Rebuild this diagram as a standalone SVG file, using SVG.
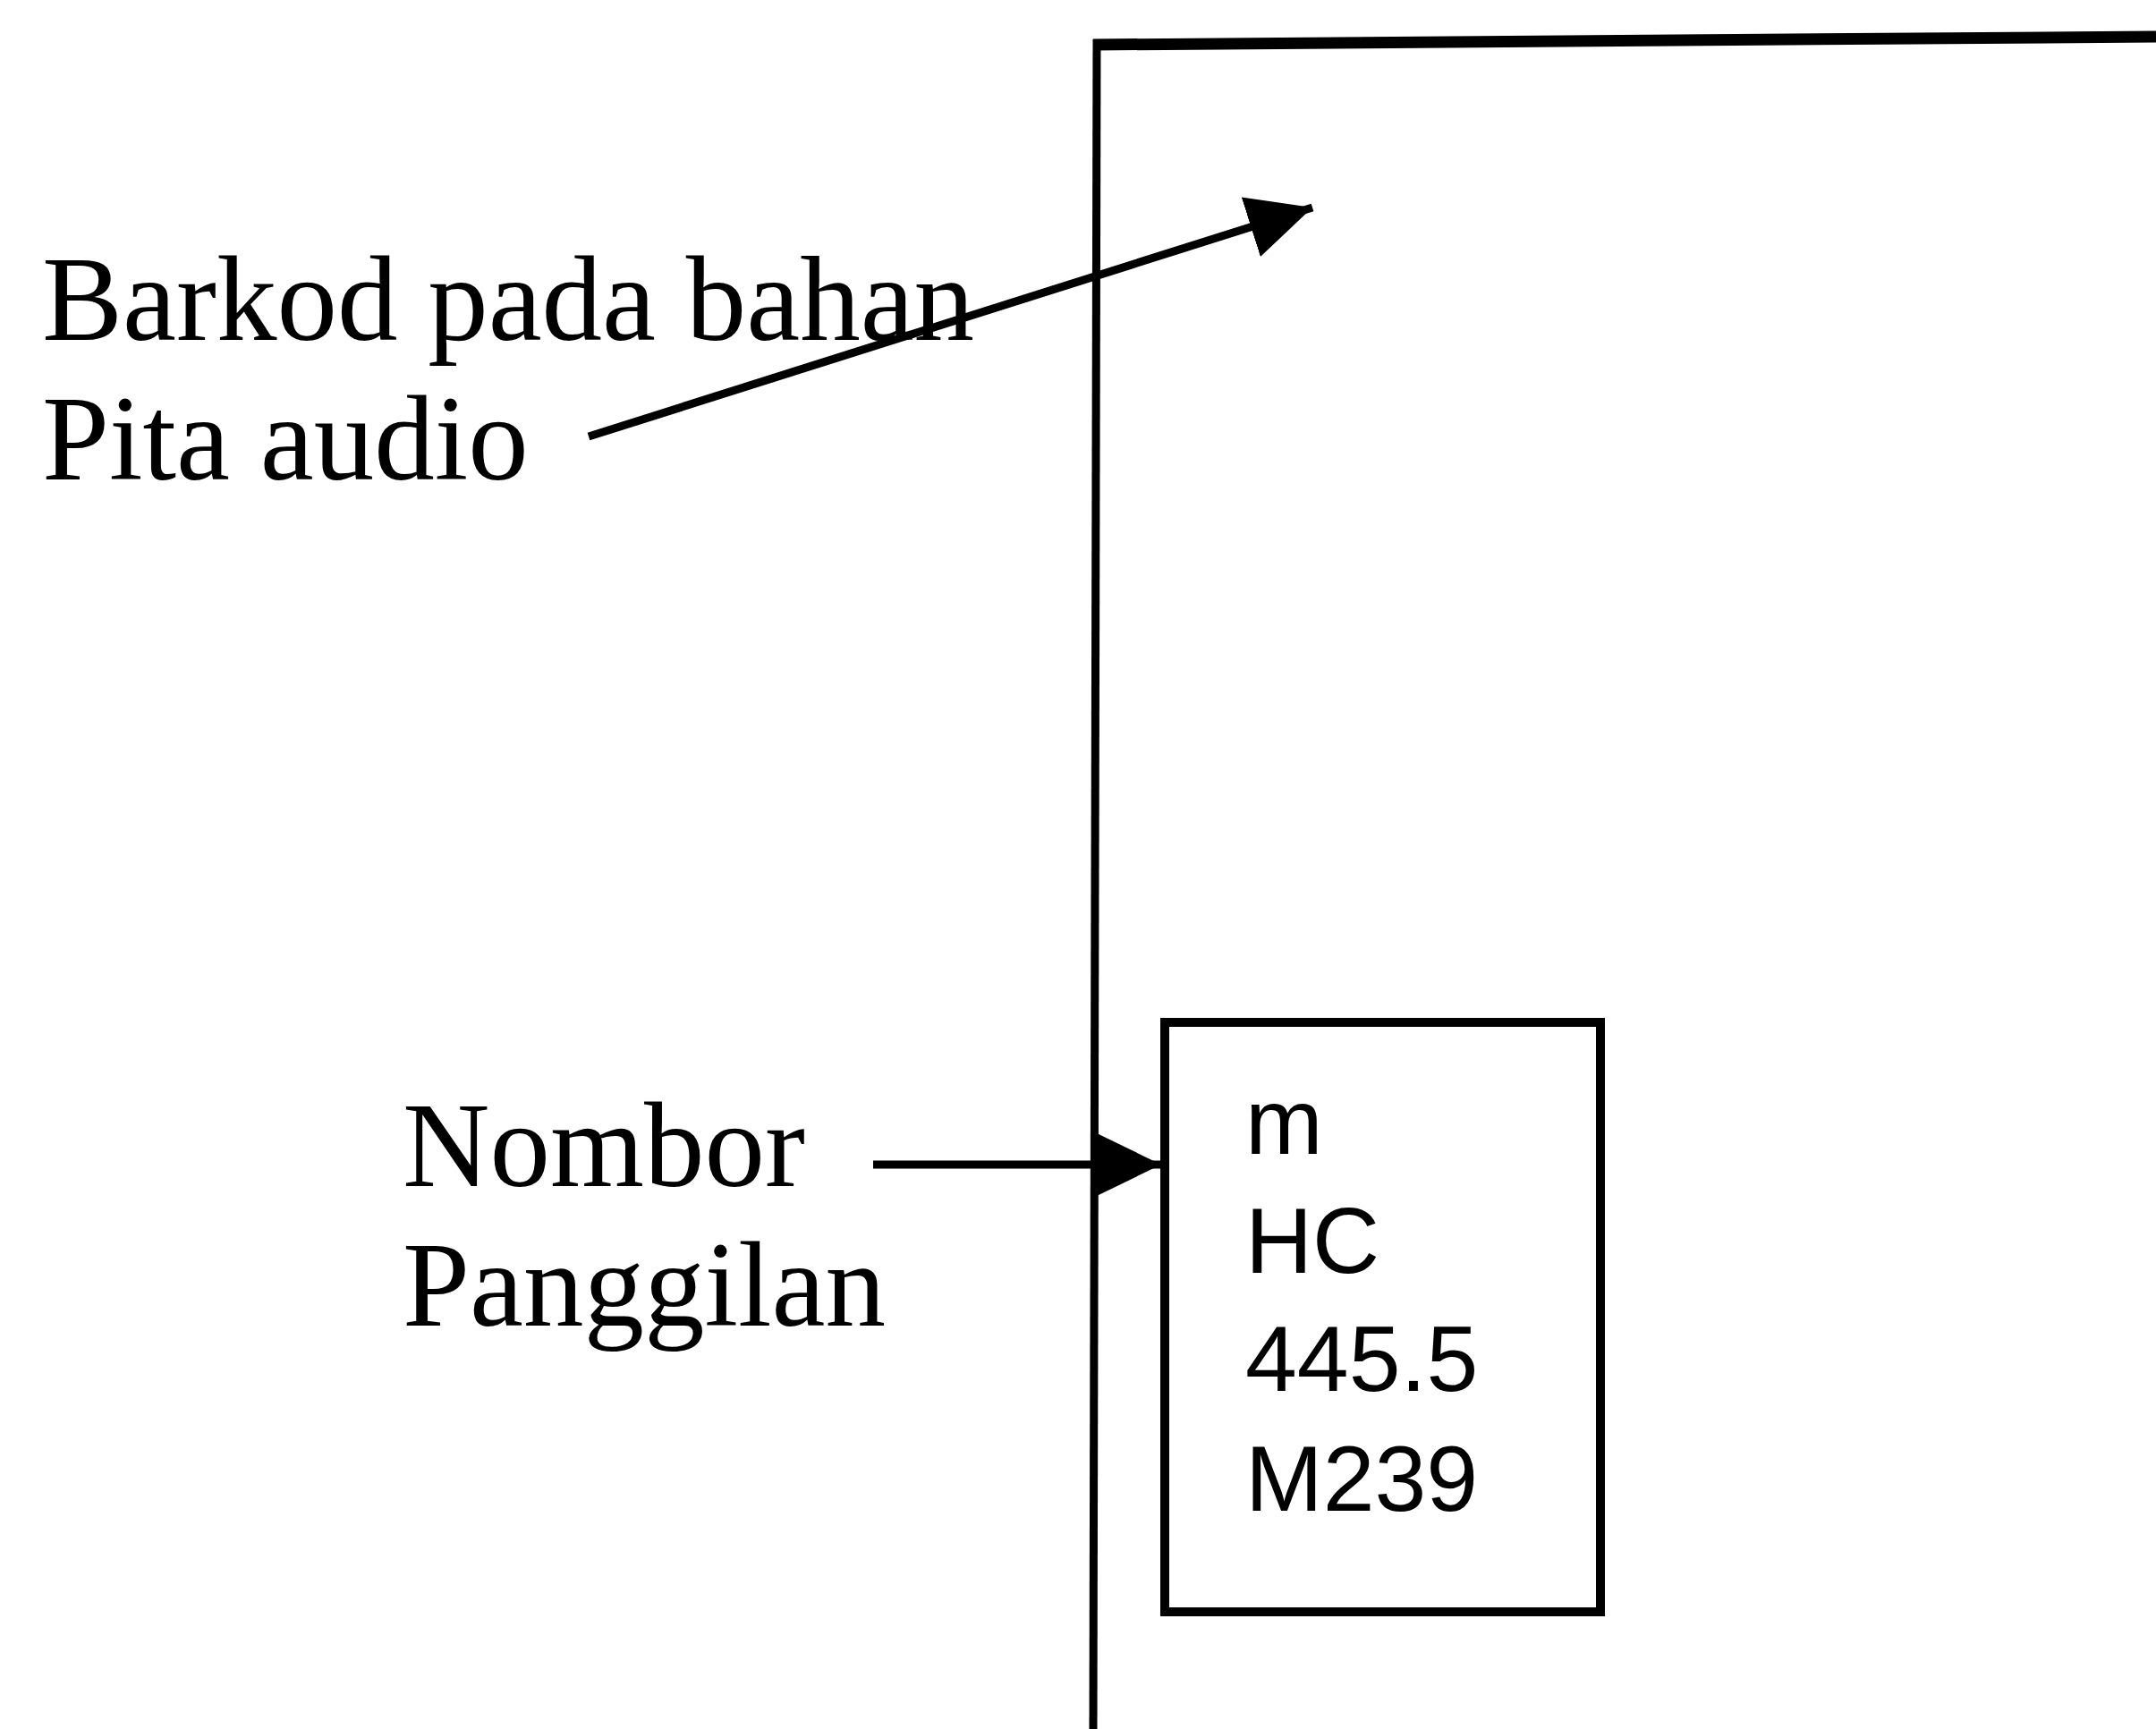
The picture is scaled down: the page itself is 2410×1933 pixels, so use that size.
<svg xmlns="http://www.w3.org/2000/svg" width="2410" height="1933" viewBox="0 0 2410 1933">
<defs>
<style>
.lbl{font-family:"Liberation Serif","Times New Roman",serif;font-size:135px;fill:#000}
.code{font-family:"Liberation Sans",Arial,sans-serif;font-size:104px;fill:#000}
.conn{stroke:#000;stroke-width:9;fill:none;marker-end:url(#ah)}
</style>
<marker id="ah" markerUnits="userSpaceOnUse" markerWidth="80" markerHeight="80" refX="72" refY="35" orient="auto" viewBox="0 0 80 80">
<path d="M0,0 L72,35 L0,70 z" fill="#000"/>
</marker>
</defs>
<rect width="2410" height="1933" fill="#fff"/>
<g id="panel">
<line x1="1222" y1="1933" x2="1226" y2="44" stroke="#000" stroke-width="9"/>
<line x1="1222" y1="50" x2="2410" y2="41" stroke="#000" stroke-width="13"/>
</g>
<g id="callnumber-box">
<rect x="1302" y="1143" width="487" height="659" fill="none" stroke="#000" stroke-width="10"/>
<text class="code" x="1392" y="1290">m</text>
<text class="code" x="1392" y="1423">HC</text>
<text class="code" x="1392" y="1555">445.5</text>
<text class="code" x="1392" y="1689">M239</text>
</g>
<g id="label-barkod">
<text class="lbl" x="47" y="380">Barkod pada bahan</text>
<text class="lbl" x="47" y="536">Pita audio</text>
</g>
<g id="label-nombor">
<text class="lbl" x="450" y="1326">Nombor</text>
<text class="lbl" x="450" y="1482">Panggilan</text>
</g>
<g id="connectors">
<line class="conn" x1="658" y1="488" x2="1467" y2="232"/>
<line class="conn" x1="976" y1="1302" x2="1298" y2="1302"/>
</g>
</svg>
